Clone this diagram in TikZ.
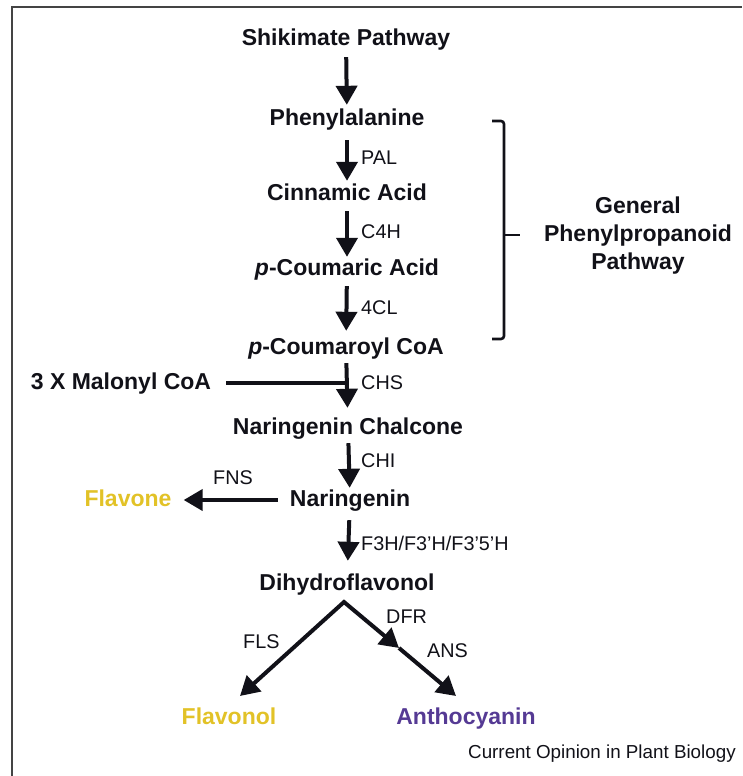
\documentclass[tikz,border=0pt]{standalone}
\usepackage{fontspec}
\setmainfont{Liberation Sans}
\usetikzlibrary{arrows.meta}
\definecolor{flavy}{HTML}{E2C227}
\definecolor{anthp}{HTML}{553A94}
\definecolor{ink}{HTML}{111118}
\definecolor{framec}{HTML}{444444}
\tikzset{
  cmpd/.style={font=\fontsize{23}{27}\selectfont\bfseries, text=ink, inner sep=0pt, text height=17pt, text depth=5pt},
  enz/.style={font=\fontsize{19.8}{22}\selectfont, text=ink, inner sep=0pt, anchor=west},
  arr/.style={draw=ink, line width=4pt, -{Triangle[width=21pt,length=19pt]}},
  plain/.style={draw=ink, line width=4pt},
  brk/.style={draw=ink, line width=2.6pt, rounded corners=3pt},
}
\begin{document}
\begin{tikzpicture}[x=1pt,y=-1pt]
\useasboundingbox (0,0) rectangle (742,776);
% frame (left and top edges visible)
\draw[framec, line width=2pt] (12,776) -- (12,7) -- (742,7);

% compounds
\node[cmpd] (shik) at (346,40) {Shikimate Pathway};
\node[cmpd] (phe) at (347,119) {Phenylalanine};
\node[cmpd] (cin) at (347,194) {Cinnamic Acid};
\node[cmpd] (pcou) at (347,269) {\textit{p}-Coumaric Acid};
\node[cmpd] (pcoa) at (346,348) {\textit{p}-Coumaroyl CoA};
\node[cmpd] (mal) at (121,383) {3 X Malonyl CoA};
\node[cmpd] (chal) at (348,428) {Naringenin Chalcone};
\node[cmpd] (nar) at (350,500) {Naringenin};
\node[cmpd, text=flavy] (flavone) at (128,500) {Flavone};
\node[cmpd] (dhf) at (347,584) {Dihydroflavonol};
\node[cmpd, text=flavy] (flavonol) at (229,718) {Flavonol};
\node[cmpd, text=anthp] (antho) at (466,718) {Anthocyanin};

% bracket text
\node[font=\fontsize{23}{28}\selectfont\bfseries, text=ink, align=center, inner sep=0pt] (gpp) at (638,236) {General\\Phenylpropanoid\\Pathway};

% credit
\node[font=\fontsize{18.8}{22}\selectfont, text=ink, inner sep=0pt, anchor=west] (credit) at (468,754) {Current Opinion in Plant Biology};

% enzyme labels
\node[enz] (pal) at (361,158) {PAL};
\node[enz] (c4h) at (361,232) {C4H};
\node[enz] (fcl) at (361,308) {4CL};
\node[enz] (chs) at (361,383) {CHS};
\node[enz] (chi) at (361,461) {CHI};
\node[enz] (fns) at (213,478) {FNS};
\node[enz] (f3h) at (361,543) {F3H/F3’H/F3’5’H};
\node[enz] (fls) at (243,642) {FLS};
\node[enz] (dfr) at (386,617) {DFR};
\node[enz] (ans) at (427,651) {ANS};

% main vertical arrows
\draw[arr, shorten <=6pt, shorten >=3pt] (shik) -- (phe);
\draw[arr, shorten <=10pt, shorten >=2pt] (phe) -- (cin);
\draw[arr, shorten <=6pt, shorten >=1pt] (cin) -- (pcou);
\draw[arr, shorten <=6pt, shorten >=6pt] (pcou) -- (pcoa);
\draw[arr, shorten <=4pt, shorten >=9pt] (pcoa) -- (chal);
\draw[arr, shorten <=4pt, shorten >=1pt] (chal) -- (nar);
\draw[arr, shorten <=9pt, shorten >=12pt] (nar) -- (dhf);

% malonyl CoA joins CHS step
\coordinate (join) at (347,383);
\draw[plain, shorten <=15pt] (mal) -- (join);

% naringenin -> flavone
\draw[arr, shorten <=12pt, shorten >=12pt] (nar) -- (flavone);

% branches from dihydroflavonol
\coordinate (vtx) at (344,602);
\coordinate (flend) at (240,696);
\coordinate (dmid) at (399,648);
\coordinate (anend) at (456,696);
\draw[draw=ink, line width=4pt, line join=miter,
      {Triangle[width=21pt,length=19pt]}-{Triangle[width=21pt,length=19pt]}]
      (flend) -- (vtx) -- (dmid);
\draw[arr] (dmid) -- (anend);

% bracket
\coordinate (bt) at (492,121);
\coordinate (bb) at (492,339);
\coordinate (bm) at (520,235);
\draw[brk] (bt) -- (504,121) -- (504,339) -- (bb);
\draw[brk] (504,235) -- (bm);
\end{tikzpicture}
\end{document}
